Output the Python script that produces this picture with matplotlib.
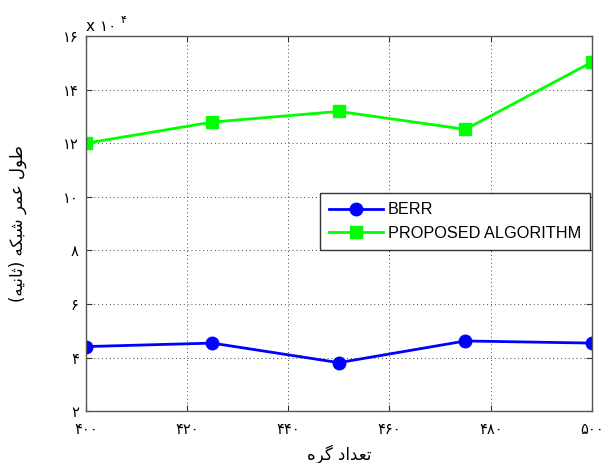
import matplotlib
matplotlib.use("Agg")
import matplotlib.pyplot as plt

nodes = [400, 425, 450, 475, 500]
berr = [4.41e4, 4.54e4, 3.81e4, 4.62e4, 4.54e4]
proposed = [12.0e4, 12.79e4, 13.19e4, 12.52e4, 15.03e4]
series_names = ["BERR", "PROPOSED ALGORITHM"]
x_ticks = [400, 420, 440, 460, 480, 500]
x_tick_labels = ["\u06f4\u06f0\u06f0", "\u06f4\u06f2\u06f0", "\u06f4\u06f4\u06f0",
                 "\u06f4\u06f6\u06f0", "\u06f4\u06f8\u06f0", "\u06f5\u06f0\u06f0"]
y_ticks = [2e4, 4e4, 6e4, 8e4, 10e4, 12e4, 14e4, 16e4]
y_tick_labels = ["\u06f2", "\u06f4", "\u06f6", "\u06f8", "\u06f1\u06f0",
                 "\u06f1\u06f2", "\u06f1\u06f4", "\u06f1\u06f6"]
# visual-order, pre-shaped Persian labels
x_label = "\ufee9\ufeae\ufb94 \ufea9\ufe8d\ufeaa\ufecc\ufe97"   # تعداد گره
y_label = ("(\ufeea\ufbff\ufee7\ufe8e\ufe9b) \ufeea\ufb91\ufe92\ufeb7 "
           "\ufeae\ufee4\ufecb \ufedd\ufeee\ufec3")              # طول عمر شبکه (ثانیه)

plt.rcParams['font.family'] = ['DejaVu Sans']
fig = plt.figure(figsize=(6.04, 4.63), dpi=100)
ax = fig.add_axes([0.142, 0.112, 0.838, 0.81])

ax.plot(nodes, berr, color='#0000ff', lw=2, marker='o', ms=9, label=series_names[0])
ax.plot(nodes, proposed, color='#00ff00', lw=2, marker='s', ms=9, label=series_names[1])

ax.set_xlim(400, 500)
ax.set_ylim(2e4, 16e4)
ax.set_xticks(x_ticks)
ax.set_xticklabels(x_tick_labels, fontsize=10.5)
ax.set_yticks(y_ticks)
ax.set_yticklabels(y_tick_labels, fontsize=10.5)
ax.tick_params(direction='in', top=True, right=True, length=4, color='#333333')
ax.tick_params(axis='x', pad=8)
ax.tick_params(axis='y', pad=5)
ax.grid(True, linestyle=(0, (1, 3)), color='#444444', lw=0.7)
for s in ax.spines.values():
    s.set_color('#555555')
    s.set_linewidth(1.0)

ax.set_xlabel(x_label, fontsize=12, labelpad=5)
ax.set_ylabel(y_label, fontsize=12, labelpad=26)

ax.text(0.0, 1.005, "x \u06f1\u06f0", transform=ax.transAxes, fontsize=11,
        ha='left', va='bottom')
ax.text(0.068, 1.03, "\u06f4", transform=ax.transAxes, fontsize=8,
        ha='left', va='bottom')

leg = ax.legend(loc='upper right', bbox_to_anchor=(0.996, 0.581),
                prop={'family': 'Liberation Sans', 'size': 11.7},
                fancybox=False, framealpha=1, edgecolor='#333333',
                borderpad=0.55, handlelength=3.3, handletextpad=0.3,
                labelspacing=0.55, borderaxespad=0.0)
leg.get_frame().set_linewidth(1.0)

fig.savefig("out.png", dpi=100)
